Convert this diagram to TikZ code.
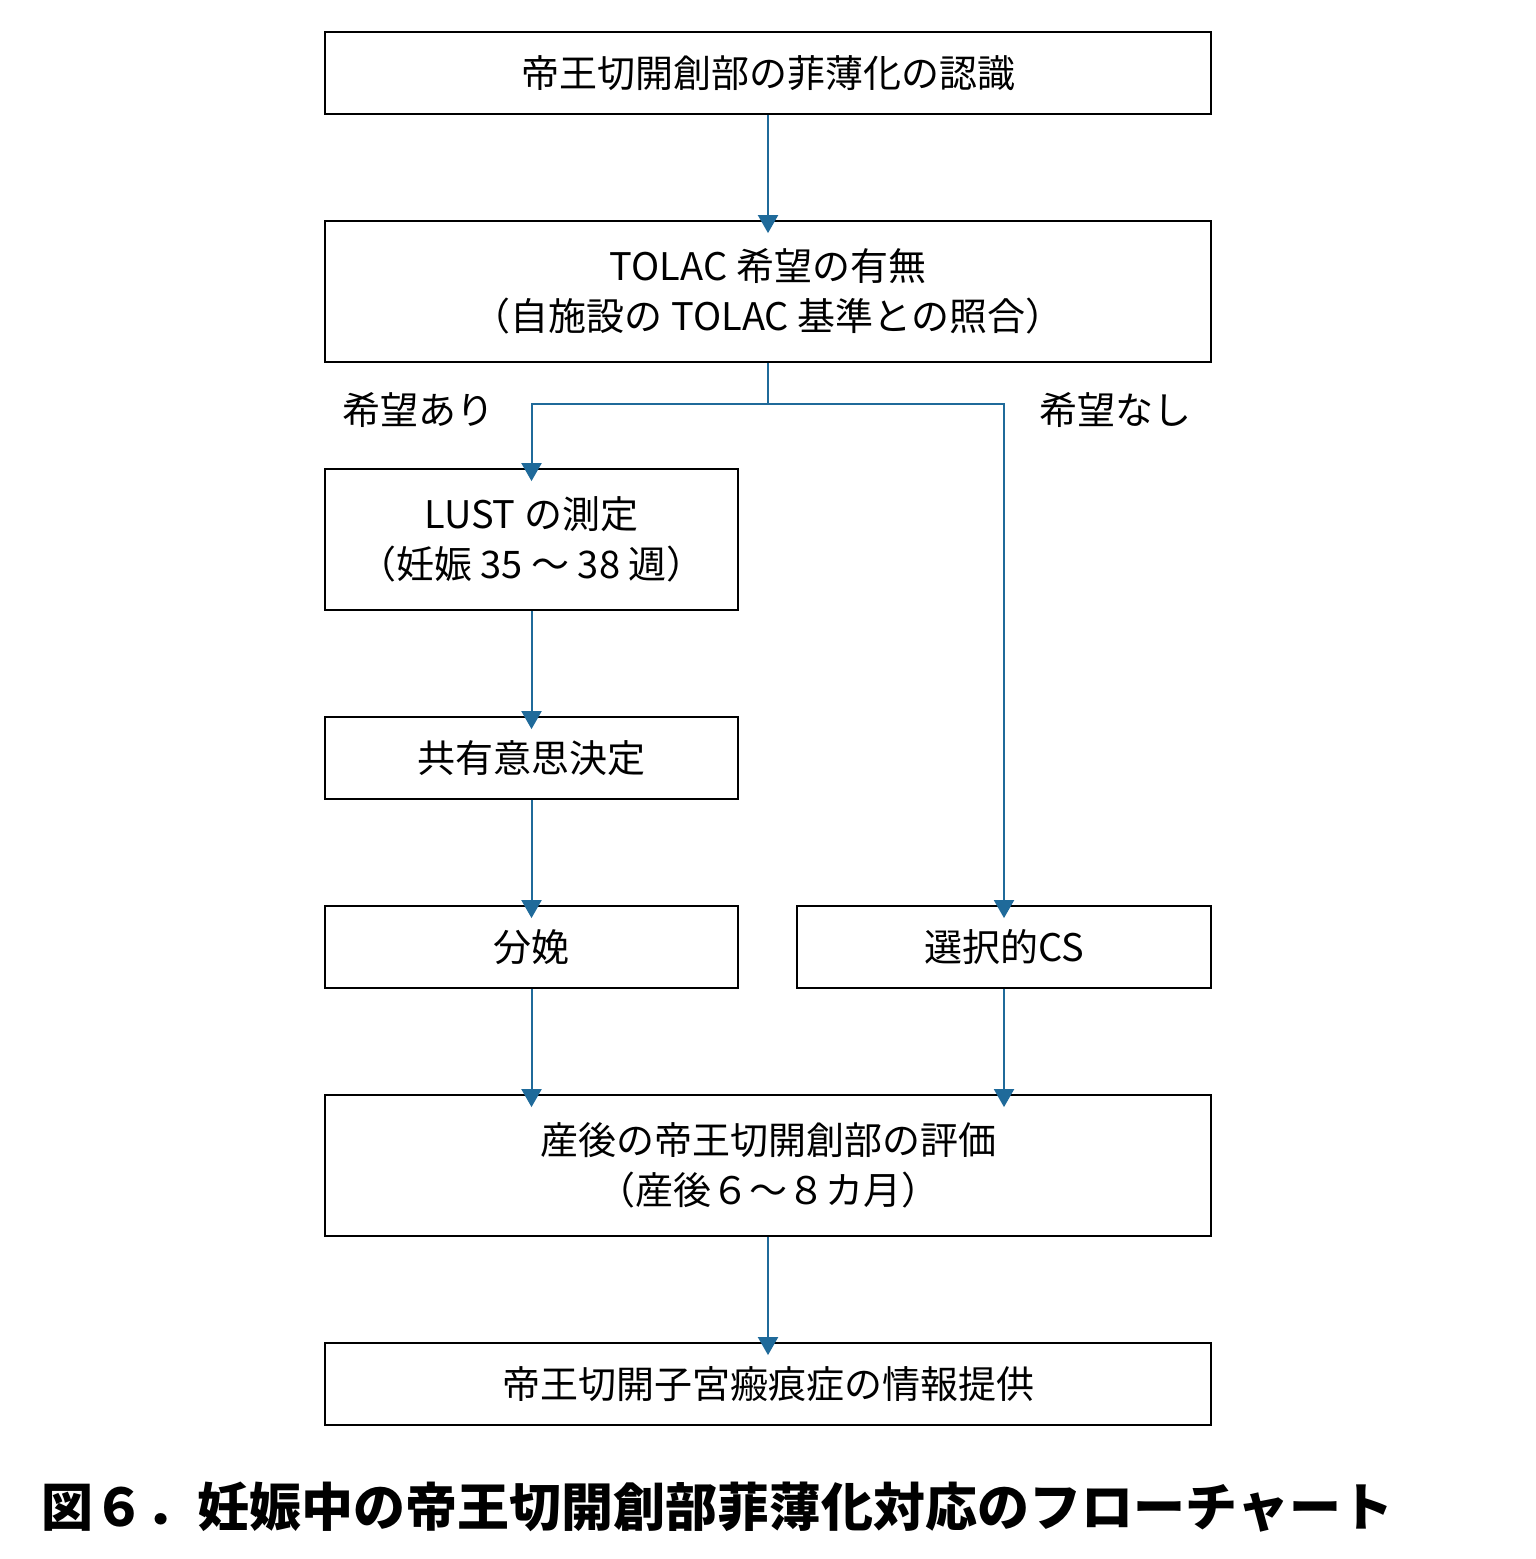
\documentclass[tikz,border=0pt]{standalone}
\usepackage{fontspec}
\setmainfont{Noto Sans CJK JP}
\usetikzlibrary{arrows.meta}
\definecolor{ar}{HTML}{1F6A9A}
\begin{document}
\begin{tikzpicture}[x=1pt,y=-1pt,
  box/.style={draw=black,line width=1.8pt,inner sep=0pt,align=center,font=\fontsize{38}{50}\selectfont},
  arr/.style={draw=ar,line width=2pt,-{Triangle[width=20pt,length=18pt]}},
  lbl/.style={font=\fontsize{38}{46}\selectfont}]
\useasboundingbox (0,0) rectangle (1535,1559);
\node[box,minimum width=886pt,minimum height=82pt] (b1) at (768,73) {帝王切開創部の菲薄化の認識};
\node[box,minimum width=886pt,minimum height=141pt] (b2) at (768,291.5) {TOLAC 希望の有無\\（自施設の TOLAC 基準との照合）};
\node[box,minimum width=413pt,minimum height=141pt] (b3) at (531.5,539.5) {LUST の測定\\（妊娠 35 ～ 38 週）};
\node[box,minimum width=413pt,minimum height=82pt] (b4) at (531.5,758) {共有意思決定};
\node[box,minimum width=413pt,minimum height=82pt] (b5) at (531.5,947) {分娩};
\node[box,minimum width=414pt,minimum height=82pt] (b6) at (1004,947) {選択的CS};
\node[box,minimum width=886pt,minimum height=141pt] (b7) at (768,1165.5) {産後の帝王切開創部の評価\\（産後６～８カ月）};
\node[box,minimum width=886pt,minimum height=82pt] (b8) at (768,1384) {帝王切開子宮瘢痕症の情報提供};
\node[lbl] (l1) at (418,410) {希望あり};
\node[lbl] (l2) at (1115,410) {希望なし};
\node[font=\bfseries\fontsize{52}{60}\selectfont,anchor=west] (cap) at (38,1507) {図６．妊娠中の帝王切開創部菲薄化対応のフローチャート};
\coordinate (s) at (768,404);
\draw[arr] (b1) -- ([yshift=-13pt]b2.north);
\draw[ar,line width=2pt] (b2.south) -- (s);
\draw[arr] (s) -| ([yshift=-13pt]b3.north);
\draw[arr] (s) -| ([yshift=-13pt]b6.north);
\draw[arr] (b3) -- ([yshift=-13pt]b4.north);
\draw[arr] (b4) -- ([yshift=-13pt]b5.north);
\draw[arr] (b5) -- ([yshift=-13pt,xshift=-236.5pt]b7.north);
\draw[arr] (b6) -- ([yshift=-13pt,xshift=236pt]b7.north);
\draw[arr] (b7) -- ([yshift=-13pt]b8.north);
\end{tikzpicture}
\end{document}
